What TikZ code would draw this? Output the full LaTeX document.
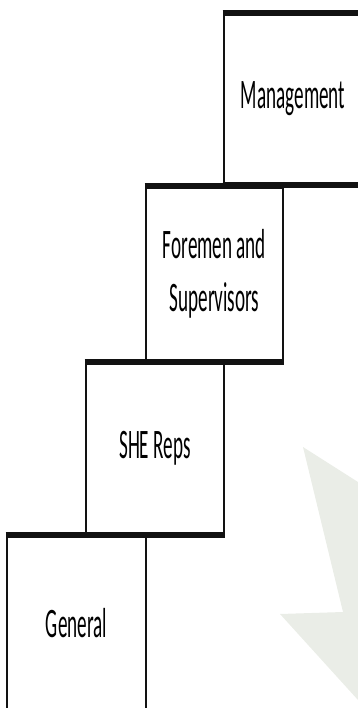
\documentclass[tikz,border=0pt]{standalone}
\usepackage{fontspec}
\newfontfamily\stepfont[FakeStretch=0.456]{Carlito}
\usetikzlibrary{calc}
\definecolor{wmark}{RGB}{234,237,231}
\tikzset{
  stepbox/.style={draw=black!93, line width=2.8pt, inner sep=0pt, outer sep=0pt,
    align=center, font=\stepfont\fontsize{42}{53.5}\selectfont},
  stepedge/.style={line width=5.5pt, color=black!93, shorten <=-1.4pt, shorten >=-1.4pt},
}

\begin{document}
\begin{tikzpicture}[x=1pt,y=-1pt]
		%%%%% START %%%%%
		\useasboundingbox (0,0) rectangle (358,708);
		\clip (0,0) rectangle (358,708);
		
		% faint watermark
		\fill[wmark] (303,447) -- (358,482) -- (358,700) -- (280,614) -- (343,612) -- cycle;
		
		\node[stepbox, minimum width=138pt, minimum height=172pt] (mgmt) at (293,99) {Management};
		\node[stepbox, minimum width=137pt, minimum height=176pt] (fore) at (214.5,274) {Foremen and\\Supervisors};
		\node[stepbox, minimum width=138pt, minimum height=173pt] (she) at (155,448.5) {SHE Reps};
		\node[stepbox, minimum width=139pt, minimum height=176pt] (gen) at (76.5,623) {General};
		
		\foreach \n in {mgmt,fore,she,gen} {
			\draw[stepedge] (\n.north west) -- (\n.north east);
			\draw[stepedge] (\n.south west) -- (\n.south east);
		}
		
		%%%%% END %%%%%
\end{tikzpicture}
\end{document}
